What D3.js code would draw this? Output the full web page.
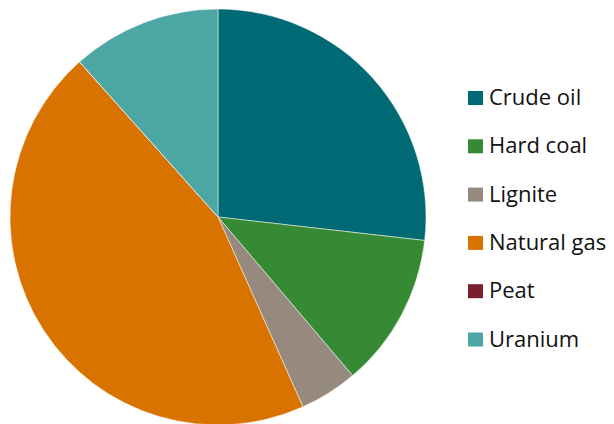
<!DOCTYPE html>
<html>
<head>
<meta charset="utf-8">
<script src="https://cdn.jsdelivr.net/npm/d3@7"></script>
<style>
  body { margin: 0; background: #fff; }
  text { font-family: "Open Sans", "Noto Sans", sans-serif; }
</style>
</head>
<body>
<svg></svg>
<script>
// Data
const categories = ["Crude oil", "Hard coal", "Lignite", "Natural gas", "Peat", "Uranium"];
const shares = [26.8, 12.0, 4.5, 45.1, 0, 11.6];
const colors = ["#006a74", "#368a34", "#968a7e", "#d97300", "#7a1f2e", "#4ba6a4"];

const width = 614, height = 424;
const svg = d3.select("svg")
    .attr("width", width)
    .attr("height", height);

const cx = 218, cy = 217, radius = 208;

const pie = d3.pie().sort(null).value(d => d);
const arc = d3.arc().innerRadius(0).outerRadius(radius);
const color = d3.scaleOrdinal().domain(categories).range(colors);

const pieGroup = svg.append("g")
    .attr("transform", `translate(${cx}, ${cy})`);

pieGroup.selectAll("path")
    .data(pie(shares))
    .enter()
    .append("path")
    .attr("d", arc)
    .attr("fill", (d, i) => color(categories[i]))
    .attr("stroke", "#fff")
    .attr("stroke-width", 0.5);

// Legend: square centres
const legendY = d3.scalePoint()
    .domain(categories)
    .range([98, 339.5]);

const legend = svg.append("g");
const items = legend.selectAll("g")
    .data(categories)
    .enter()
    .append("g")
    .attr("transform", d => `translate(468, ${legendY(d)})`);

items.append("rect")
    .attr("x", 0)
    .attr("y", -7)
    .attr("width", 15)
    .attr("height", 14)
    .attr("fill", d => color(d));

items.append("text")
    .attr("x", 21)
    .attr("y", 7)
    .attr("font-size", 22)
    .attr("fill", "#111")
    .text(d => d);
</script>
</body>
</html>
